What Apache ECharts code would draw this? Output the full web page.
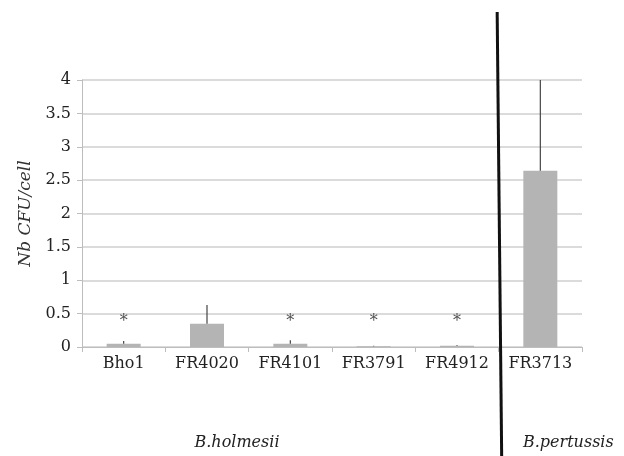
<!DOCTYPE html>
<html><head><meta charset="utf-8">
<script src="https://cdn.jsdelivr.net/npm/echarts@6/dist/echarts.min.js"></script>
<style>html,body{margin:0;padding:0;background:#fff}#c{width:624px;height:456px}</style>
</head><body><div id="c"></div>
<script>
const categories = ['Bho1','FR4020','FR4101','FR3791','FR4912','FR3713'];
const values = [0.05, 0.35, 0.05, 0.01, 0.02, 2.64];
const errTops = [0.09, 0.63, 0.10, 0.02, 0.03, 4.0];
const significant = [true, false, true, true, true, false];
const starLevel = 0.38;
const yTicks = {min: 0, max: 4, interval: 0.5};
const groupNames = ['B.holmesii', 'B.pertussis'];

const serif = 'DejaVu Serif, Liberation Serif, serif';
const chart = echarts.init(document.getElementById('c'));
chart.setOption({
  animation: false,
  grid: {left: 82, right: 42, top: 80, bottom: 109},
  xAxis: {
    type: 'category', data: categories,
    axisLine: {lineStyle: {color: '#bdbdbd'}},
    axisTick: {show: true, length: 5, lineStyle: {color: '#bdbdbd'}},
    axisLabel: {color: '#222', fontFamily: serif, fontSize: 16, margin: 9, interval: 0}
  },
  yAxis: {
    type: 'value', min: yTicks.min, max: yTicks.max, interval: yTicks.interval,
    name: 'Nb CFU/cell', nameLocation: 'middle', nameGap: 48,
    nameTextStyle: {fontFamily: serif, fontStyle: 'italic', fontSize: 17, color: '#333'},
    axisLine: {show: true, lineStyle: {color: '#bdbdbd'}},
    axisTick: {show: true, length: 5, lineStyle: {color: '#bdbdbd'}},
    splitLine: {lineStyle: {color: '#cfcfcf', width: 1.5}},
    axisLabel: {color: '#222', fontFamily: serif, fontSize: 16, margin: 11}
  },
  series: [
    {type: 'bar', data: values, barWidth: 34, itemStyle: {color: '#b4b4b4'}, z: 2},
    {type: 'custom', z: 3,
      data: categories.map((c, i) => [i, values[i], errTops[i]]),
      renderItem: function(params, api) {
        const p0 = api.coord([api.value(0), api.value(1)]);
        const p1 = api.coord([api.value(0), api.value(2)]);
        return {type: 'line', shape: {x1: p0[0], y1: p0[1], x2: p1[0], y2: p1[1]},
          style: {stroke: '#444', lineWidth: 1.2}};
      }
    },
    {type: 'scatter', symbolSize: 0, z: 4,
      data: categories.map((c, i) => significant[i] ? [i, starLevel] : null).filter(d => d),
      label: {show: true, formatter: '*', position: 'inside', fontFamily: serif, fontSize: 16, color: '#222'}
    }
  ]
});

// group separator between FR4912 and FR3713, positioned from the axis scale
const px = i => chart.convertToPixel({xAxisIndex: 0}, i);
const band = px(1) - px(0);
const sepX = px(5) - band / 2;
chart.setOption({graphic: [
  {type: 'line', shape: {x1: sepX - 1.5, y1: 12, x2: sepX + 3, y2: 456},
    style: {stroke: '#111', lineWidth: 3}, z: 10},
  {type: 'text', x: px(1) + band * 0.36, y: 443, style: {text: groupNames[0], fontFamily: serif, fontStyle: 'italic',
    fontSize: 16, fill: '#222', align: 'center', verticalAlign: 'middle'}, z: 10},
  {type: 'text', x: px(5) + 28, y: 443, style: {text: groupNames[1], fontFamily: serif, fontStyle: 'italic',
    fontSize: 16, fill: '#222', align: 'center', verticalAlign: 'middle'}, z: 10}
]});
</script></body></html>
